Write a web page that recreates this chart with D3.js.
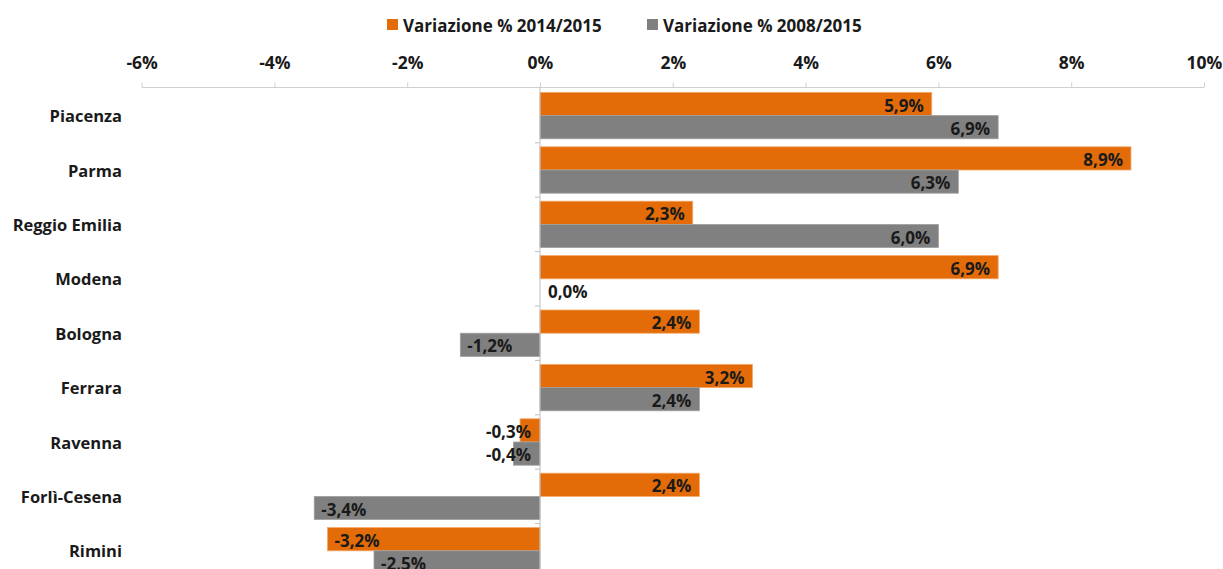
<!DOCTYPE html>
<html><head><meta charset="utf-8">
<script src="https://cdn.jsdelivr.net/npm/d3@7"></script>
<style>
html,body{margin:0;padding:0;background:#fff;overflow:hidden}
text{font-family:"Open Sans",sans-serif;font-weight:700;fill:#1a1a1a}
</style></head>
<body><svg id="c" width="1223" height="569"></svg>
<script>
const categories = ["Piacenza","Parma","Reggio Emilia","Modena","Bologna","Ferrara","Ravenna","Forlì-Cesena","Rimini"];
const seriesNames = ["Variazione % 2014/2015","Variazione % 2008/2015"];
const var20142015 = [5.9, 8.9, 2.3, 6.9, 2.4, 3.2, -0.3, 2.4, -3.2];
const var20082015 = [6.9, 6.3, 6.0, 0.0, -1.2, 2.4, -0.4, -3.4, -2.5];
const xTicks = [-6,-4,-2,0,2,4,6,8,10];
const colors = ["#E36C09","#808080"];
const strokes = ["#F4A766","#A0A0A0"];

const svg = d3.select("#c");
const x = d3.scaleLinear().domain([-6,10]).range([141.6,1204]);
const y = d3.scaleBand().domain(categories).range([88.4, 88.4+54.4*categories.length]).padding(0);
const pad = 4;
const bh = (y.bandwidth()-2*pad)/2;
const fmt = v => v.toFixed(1).replace(".", ",") + "%";

// top axis
const axisY = 87.5;
const xAxis = d3.axisTop(x).tickValues(xTicks).tickSize(5).tickFormat(d => d + "%");
const gx = svg.append("g").attr("transform", `translate(0,${axisY})`).call(xAxis);
gx.select(".domain").attr("stroke","#D0D0D0").attr("d", `M${x(-6)},0H${x(10)}`);
gx.selectAll(".tick line").attr("stroke","#D0D0D0");
gx.selectAll(".tick text").attr("y",-19).attr("dy",0).style("font-size","17.5px").style("font-family","'Open Sans',sans-serif").style("font-weight","700").attr("fill","#1a1a1a");

// bars
const data = [];
categories.forEach((c,i)=>{
  [var20142015, var20082015].forEach((arr,s)=>{
    data.push({c, s, v: arr[i]});
  });
});
svg.append("g").selectAll("rect").data(data).join("rect")
  .attr("x", d => x(Math.min(0,d.v)))
  .attr("width", d => Math.abs(x(d.v)-x(0)))
  .attr("y", d => y(d.c)+pad+d.s*bh)
  .attr("height", bh)
  .attr("fill", d => colors[d.s])
  .attr("stroke", d => d.v===0 ? "none" : strokes[d.s])
  .attr("stroke-width", 0.8);

// vertical category axis at zero
const gy = svg.append("g").attr("transform", `translate(${x(0)},0)`);
gy.append("line").attr("x1",0).attr("x2",0).attr("y1",axisY).attr("y2",600).attr("stroke","#BFBFBF");
gy.selectAll("line.tk").data(categories.slice(1)).join("line").attr("class","tk")
  .attr("x1",-5).attr("x2",0).attr("y1",d=>y(d)).attr("y2",d=>y(d)).attr("stroke","#BFBFBF");

// category labels
svg.append("g").selectAll("text").data(categories).join("text")
  .attr("x", 122).attr("y", d => y(d)+y.bandwidth()/2)
  .attr("text-anchor","end").attr("dominant-baseline","central")
  .style("font-size","16.5px").text(d=>d);

// data labels
const lbl = svg.append("g").selectAll("text").data(data).join("text")
  .style("font-size","17px")
  .attr("dominant-baseline","central")
  .attr("y", d => y(d.c)+pad+d.s*bh+bh/2+1)
  .text(d => fmt(d.v));
lbl.each(function(d){
  const t = d3.select(this);
  const w = this.getComputedTextLength();
  const len = Math.abs(x(d.v)-x(0));
  if (d.v > 0) { t.attr("text-anchor","end").attr("x", x(d.v)-8); }
  else if (d.v === 0) { t.attr("text-anchor","start").attr("x", x(0)+8); }
  else if (w + 12 > len) { t.attr("text-anchor","end").attr("x", x(0)-9); }
  else { t.attr("text-anchor","start").attr("x", x(d.v)+7); }
});

// legend
const leg = svg.append("g");
const legX = [387, 647];
seriesNames.forEach((n,i)=>{
  leg.append("rect").attr("x",legX[i]).attr("y",19).attr("width",11).attr("height",11).attr("fill",colors[i]);
  leg.append("text").attr("x",legX[i]+16).attr("y",25).attr("dominant-baseline","central").style("font-size","17px").text(n);
});
</script></body></html>
